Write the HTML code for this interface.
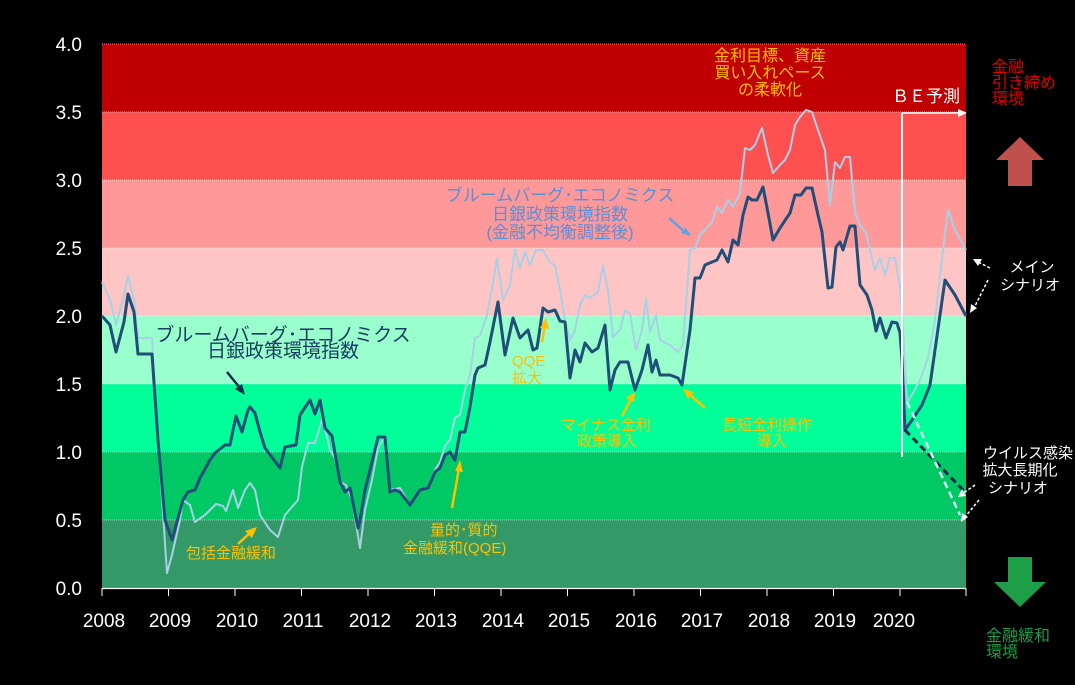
<!DOCTYPE html>
<html><head><meta charset="utf-8"><style>
html,body{margin:0;padding:0;background:#000;}
svg{display:block;}
text{font-family:"Liberation Sans","Noto Sans CJK JP",sans-serif;}
</style></head><body>
<svg width="1075" height="685" viewBox="0 0 1075 685" xmlns="http://www.w3.org/2000/svg">
<rect width="1075" height="685" fill="#000"/>
<rect x="102" y="44" width="864" height="68" fill="#c00000"/>
<rect x="102" y="112" width="864" height="68" fill="#ff5050"/>
<rect x="102" y="180" width="864" height="68" fill="#ff9898"/>
<rect x="102" y="248" width="864" height="68" fill="#ffc5c5"/>
<rect x="102" y="316" width="864" height="68" fill="#99ffcc"/>
<rect x="102" y="384" width="864" height="68" fill="#00ff99"/>
<rect x="102" y="452" width="864" height="68" fill="#00c864"/>
<rect x="102" y="520" width="864" height="68" fill="#339966"/>
<g stroke="#fff" stroke-width="0.8" stroke-dasharray="1,1" opacity="0.8">
<line x1="102" y1="44" x2="966" y2="44"/><line x1="102" y1="112" x2="966" y2="112"/><line x1="102" y1="180" x2="966" y2="180"/><line x1="102" y1="248" x2="966" y2="248"/><line x1="102" y1="316" x2="966" y2="316"/><line x1="102" y1="384" x2="966" y2="384"/><line x1="102" y1="452" x2="966" y2="452"/><line x1="102" y1="520" x2="966" y2="520"/>
</g>
<line x1="102" y1="588.5" x2="966" y2="588.5" stroke="#fff" stroke-width="1.2"/>
<g stroke="#fff" stroke-width="1">
<line x1="102" y1="588" x2="102" y2="596"/><line x1="168.5" y1="588" x2="168.5" y2="596"/><line x1="235" y1="588" x2="235" y2="596"/><line x1="301.5" y1="588" x2="301.5" y2="596"/><line x1="368" y1="588" x2="368" y2="596"/><line x1="434.5" y1="588" x2="434.5" y2="596"/><line x1="501" y1="588" x2="501" y2="596"/><line x1="567.5" y1="588" x2="567.5" y2="596"/><line x1="634" y1="588" x2="634" y2="596"/><line x1="700.5" y1="588" x2="700.5" y2="596"/><line x1="767" y1="588" x2="767" y2="596"/><line x1="833.5" y1="588" x2="833.5" y2="596"/><line x1="900" y1="588" x2="900" y2="596"/><line x1="966" y1="588" x2="966" y2="596"/>
</g>
<g fill="#fff" font-size="19" text-anchor="end">
<text x="82" y="51">4.0</text><text x="82" y="119">3.5</text><text x="82" y="187">3.0</text><text x="82" y="255">2.5</text><text x="82" y="323">2.0</text><text x="82" y="391">1.5</text><text x="82" y="459">1.0</text><text x="82" y="527">0.5</text><text x="82" y="595">0.0</text>
</g>
<g fill="#fff" font-size="19" text-anchor="middle">
<text x="104" y="627">2008</text><text x="170" y="627">2009</text><text x="237" y="627">2010</text><text x="303" y="627">2011</text><text x="370" y="627">2012</text><text x="436" y="627">2013</text><text x="503" y="627">2014</text><text x="569" y="627">2015</text><text x="636" y="627">2016</text><text x="702" y="627">2017</text><text x="769" y="627">2018</text><text x="835" y="627">2019</text><text x="894" y="627">2020</text>
</g>
<!-- light series -->
<polyline fill="none" stroke="#a8d0e6" stroke-width="2" stroke-linejoin="round" points="102,282 110,300 116,325 124,295 128,276 134,300 138,338 152,338 158,440 167,573 172,555 180,520 183,500 190,505 195,522 205,515 210,510 216,504 223,506 226,511 233,490 238,508 245,490 250,483 255,490 260,515 270,530 278,537 285,515 291,508 298,500 302,467 308,443 315,443 322,420 326,433 330,450 335,458 340,482 346,485 352,500 360,548 365,510 372,480 378,448 385,436 390,490 400,488 410,505 420,490 428,487 435,470 440,462 445,446 450,440 455,418 460,415 465,390 470,375 475,338 480,336 487,315 493,283 497,258 503,300 510,285 515,250 520,268 525,252 530,265 536,250 543,250 550,263 555,265 560,290 565,320 570,340 575,330 580,305 585,295 590,298 598,292 603,265 608,290 613,337 620,330 625,310 630,314 636,350 642,330 646,298 650,332 656,315 660,340 670,345 678,352 683,345 690,250 695,248 700,235 705,230 712,222 717,207 722,213 728,200 733,207 740,193 745,148 750,150 755,145 762,128 768,155 773,173 780,165 785,160 790,150 795,125 800,117 806,110 812,112 818,130 825,150 830,205 835,162 840,168 845,157 850,157 855,213 860,225 866,233 870,250 875,270 880,258 885,275 890,258 895,258 900,287 903,330 907,402 912,395 920,380 928,358 935,320 943,250 948,210 955,230 966,250"/>
<!-- dark series -->
<polyline fill="none" stroke="#1f4e79" stroke-width="3" stroke-linejoin="round" points="102,316 110,325 116,352 124,322 128,294 134,312 138,354 150,354 152,354 158,440 165,520 172,540 183,500 188,492 195,490 200,478 210,460 215,453 225,445 230,445 236,416 242,432 248,410 250,407 255,413 260,432 265,448 280,468 285,447 296,445 300,415 310,400 315,414 320,400 325,428 332,436 340,482 345,492 350,488 358,528 360,520 365,490 372,462 378,437 385,437 390,492 395,490 400,492 410,505 420,490 428,488 435,472 440,468 445,455 450,452 455,460 460,432 465,432 470,407 475,375 478,368 485,365 490,342 498,302 505,355 513,318 520,338 528,330 533,350 537,348 543,308 548,312 555,310 560,321 565,322 570,378 575,350 580,362 585,343 592,352 598,348 605,325 610,390 615,370 620,362 628,362 635,390 642,370 648,345 652,372 656,360 660,375 670,375 678,378 682,385 690,330 695,278 700,278 705,265 712,262 717,260 722,250 728,262 733,240 738,245 743,215 748,197 752,200 757,200 763,187 768,213 773,240 780,228 790,213 795,195 801,195 806,188 812,188 818,215 822,232 828,288 832,287 836,247 840,242 843,250 850,226 855,226 860,285 867,295 872,310 876,331 880,318 886,338 892,322 897,323 900,333 902,360 905,430 912,420 922,405 930,385 945,280 955,295 966,316"/>
<line x1="905" y1="430" x2="965" y2="492" stroke="#0b2e4a" stroke-width="3" stroke-dasharray="7,4"/>
<line x1="907" y1="402" x2="960" y2="515" stroke="#d0f0f0" stroke-width="2.5" stroke-dasharray="7,4"/>
<!-- BE line -->
<line x1="902" y1="113" x2="902" y2="457" stroke="#fff" stroke-width="2"/>
<line x1="902" y1="113" x2="960" y2="113" stroke="#fff" stroke-width="1.5"/>
<polygon points="967,113 958,109 958,117" fill="#fff"/>
<text x="892" y="102" fill="#fff" font-size="17">ＢＥ予測</text>
<!-- annotations -->
<g fill="#ffc000" font-size="16" text-anchor="middle">
<text x="770" y="61">金利目標、資産</text><text x="770" y="78">買い入れペース</text><text x="770" y="95">の柔軟化</text>
</g>
<g fill="#5b8fd6" font-size="17" text-anchor="middle">
<text x="560" y="201">ブルームバーグ･エコノミクス</text><text x="560" y="220">日銀政策環境指数</text><text x="560" y="238">(金融不均衡調整後)</text>
</g>
<line x1="669" y1="218" x2="686" y2="233" stroke="#5ba3e6" stroke-width="2.5"/><polygon points="691,236 681,233 686,228" fill="#5ba3e6"/>
<g fill="#163e60" font-size="19" text-anchor="middle">
<text x="283" y="341">ブルームバーグ･エコノミクス</text><text x="283" y="357">日銀政策環境指数</text>
</g>
<line x1="227" y1="372" x2="240" y2="388" stroke="#0b2e4a" stroke-width="2.5"/><polygon points="245,395 235,389 242,384" fill="#0b2e4a"/>
<g fill="#ffc000" font-size="15">
<text x="186" y="558">包括金融緩和</text>
<text x="430" y="535">量的･質的</text><text x="403" y="553">金融緩和(QQE)</text>
<text x="512" y="366">QQE</text><text x="512" y="383">拡大</text>
<text x="561" y="430">マイナス金利</text><text x="577" y="446">政策導入</text>
<text x="722" y="430">長短金利操作</text><text x="757" y="446">導入</text>
</g>
<g stroke="#ffc000" stroke-width="2.5">
<line x1="238" y1="544" x2="251" y2="532"/><line x1="452" y1="508" x2="459" y2="468"/><line x1="542" y1="342" x2="545" y2="325"/><line x1="622" y1="416" x2="631" y2="399"/><line x1="705" y1="408" x2="689" y2="394"/>
</g>
<g fill="#ffc000">
<polygon points="257,527 245,531 252,538"/><polygon points="460,460 455,471 463,472"/><polygon points="546,318 540,328 549,329"/><polygon points="635,392 626,398 634,402"/><polygon points="683,389 688,399 694,392"/>
</g>
<!-- right side -->
<g fill="#e00000" font-size="16"><text x="992" y="72">金融</text><text x="992" y="88">引き締め</text><text x="992" y="104">環境</text></g>
<polygon points="1020,137 1044,160 1032,160 1032,186 1008,186 1008,160 996,160" fill="#c0504d"/>
<polygon points="1008,557 1032,557 1032,582 1046,582 1020,607 994,582 1008,582" fill="#1e9e46"/>
<g fill="#1e9e46" font-size="16"><text x="986" y="641">金融緩和</text><text x="986" y="657">環境</text></g>
<g fill="#fff" font-size="15" text-anchor="middle">
<text x="1032" y="272">メイン</text><text x="1030" y="290">シナリオ</text>
<text x="1028" y="458">ウイルス感染</text><text x="1020" y="475">拡大長期化</text><text x="1018" y="493">シナリオ</text>
</g>
<g stroke="#fff" stroke-width="1.5" stroke-dasharray="3,2">
<line x1="990" y1="268" x2="978" y2="262"/><line x1="988" y1="280" x2="974" y2="308"/><line x1="975" y1="485" x2="962" y2="494"/><line x1="979" y1="500" x2="965" y2="517"/>
</g>
<g fill="#fff"><polygon points="973,259 982,259 978,266"/><polygon points="970,313 971,304 977,308"/><polygon points="958,497 962,489 966,496"/><polygon points="961,522 962,513 968,517"/></g>
</svg>
</body></html>
